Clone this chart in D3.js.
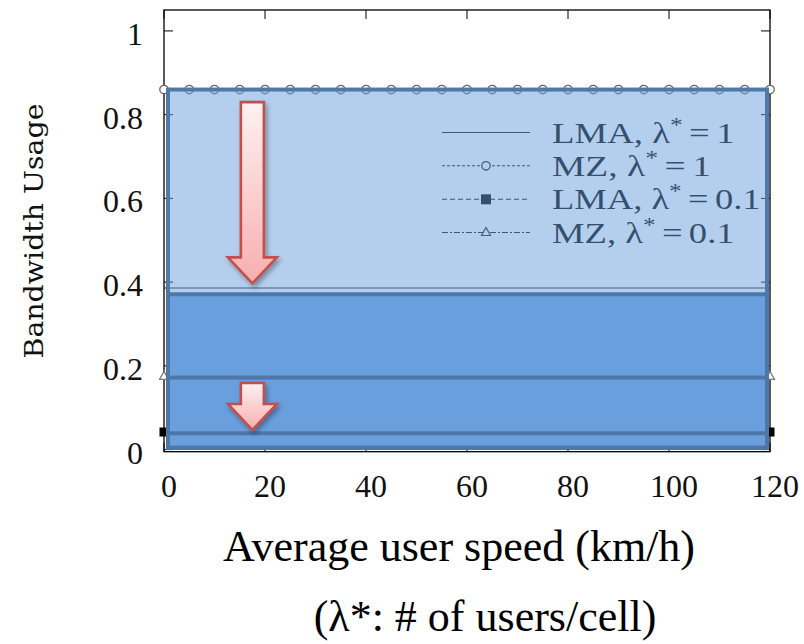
<!DOCTYPE html>
<html><head><meta charset="utf-8">
<script src="https://cdn.jsdelivr.net/npm/d3@7/dist/d3.min.js"></script>
<style>
html,body{margin:0;padding:0;background:#fff;} svg{display:block;}
.serif{font-family:"Liberation Serif","DejaVu Serif",Tinos,"Times New Roman",Times,serif;}
.dserif{font-family:"DejaVu Serif","Liberation Serif",serif;}
</style>
</head><body>
<svg id="chart" width="804" height="644"></svg>
<script>
// ---------------- data ----------------
const speeds  = [0,5,10,15,20,25,30,35,40,45,50,55,60,65,70,75,80,85,90,95,100,105,110,115,120];
const lmaHigh = [0.386,0.386,0.386,0.386,0.386,0.386,0.386,0.386,0.386,0.386,0.386,0.386,0.386,0.386,0.386,0.386,0.386,0.386,0.386,0.386,0.386,0.386,0.386,0.386,0.386];
const mzHigh  = [0.86,0.86,0.86,0.86,0.86,0.86,0.86,0.86,0.86,0.86,0.86,0.86,0.86,0.86,0.86,0.86,0.86,0.86,0.86,0.86,0.86,0.86,0.86,0.86,0.86];
const lmaLow  = [0.042,0.042,0.042,0.042,0.042,0.042,0.042,0.042,0.042,0.042,0.042,0.042,0.042,0.042,0.042,0.042,0.042,0.042,0.042,0.042,0.042,0.042,0.042,0.042,0.042];
const mzLow   = [0.175,0.175,0.175,0.175,0.175,0.175,0.175,0.175,0.175,0.175,0.175,0.175,0.175,0.175,0.175,0.175,0.175,0.175,0.175,0.175,0.175,0.175,0.175,0.175,0.175];
const seriesLabels = [["LMA, λ","*","=","1"],["MZ, λ","*","=","1"],["LMA, λ","*","=","0.1"],["MZ, λ","*","=","0.1"]];
const xTicks = [0,20,40,60,80,100,120];
const xTickLabels = ["0","20","40","60","80","100","120"];
const yTicks = [0,0.2,0.4,0.6,0.8,1];
const yTickLabels = ["0","0.2","0.4","0.6","0.8","1"];
const xTitle = "Average user speed (km/h)";
const xNote = "(λ*: # of users/cell)";
const yTitle = "Bandwidth Usage";
// overlay annotations (levels in data units)
const lightBandTop = 0.86;
const darkBandTops = [0.371, 0.172, 0.039];
const arrowSpeed = 17.5;
const arrowFrom = [0.83, 0.159];
const arrowTo   = [0.397, 0.047];

// ---------------- scales ----------------
const svg = d3.select("#chart");
const x = d3.scaleLinear().domain([0,120]).range([164,770]);
const y = d3.scaleLinear().domain([-0.005,1.05]).range([451.7,10]);

const defs = svg.append("defs");
const grad = defs.append("linearGradient").attr("id","arrowGrad").attr("x1",0).attr("y1",0).attr("x2",0).attr("y2",1);
grad.append("stop").attr("offset","0%").attr("stop-color","#fef1f1");
grad.append("stop").attr("offset","100%").attr("stop-color","#f8aeae");
const flt = defs.append("filter").attr("id","shadow").attr("x","-30%").attr("y","-10%").attr("width","160%").attr("height","130%");
flt.append("feDropShadow").attr("dx",2).attr("dy",3).attr("stdDeviation",2.5).attr("flood-color","#000").attr("flood-opacity",0.35);

// ---------------- gnuplot layer ----------------
const g = svg.append("g");
const tl = 9;
yTicks.forEach(v=>{
  g.append("line").attr("x1",x(0)).attr("x2",x(0)+tl).attr("y1",y(v)).attr("y2",y(v)).attr("stroke","#000");
  g.append("line").attr("x1",x(120)).attr("x2",x(120)-tl).attr("y1",y(v)).attr("y2",y(v)).attr("stroke","#000");
});
xTicks.forEach(v=>{
  g.append("line").attr("x1",x(v)).attr("x2",x(v)).attr("y1",y(1.05)).attr("y2",y(1.05)+tl).attr("stroke","#000");
  g.append("line").attr("x1",x(v)).attr("x2",x(v)).attr("y1",y(-0.005)).attr("y2",y(-0.005)-tl).attr("stroke","#000");
});
g.append("rect").attr("x",x(0)).attr("y",y(1.05)).attr("width",x(120)-x(0)).attr("height",y(-0.005)-y(1.05))
  .attr("fill","none").attr("stroke","#000").attr("stroke-width",1.3);

// tick labels
g.selectAll(".yl").data(yTicks).enter().append("text").attr("class","serif")
  .attr("x",143).attr("y",d=>y(d)+14).attr("text-anchor","end")
  .attr("font-size",32).attr("fill","#111")
  .text((d,i)=>yTickLabels[i]);
g.selectAll(".xl").data(xTicks).enter().append("text").attr("class","serif")
  .attr("x",d=>x(d)+5).attr("y",497).attr("text-anchor","middle")
  .attr("font-size",32).attr("fill","#111")
  .text((d,i)=>xTickLabels[i]);

// series
const line = vals => d3.line().x((d,i)=>x(speeds[i])).y(d=>y(d))(vals);
g.append("path").attr("d",line(lmaHigh)).attr("fill","none").attr("stroke","#222").attr("stroke-width",1.2);
g.append("path").attr("d",line(mzHigh)).attr("fill","none").attr("stroke","#333").attr("stroke-width",1).attr("stroke-dasharray","3,2");
g.append("path").attr("d",line(lmaLow)).attr("fill","none").attr("stroke","#222").attr("stroke-width",1).attr("stroke-dasharray","5,3");
g.append("path").attr("d",line(mzLow)).attr("fill","none").attr("stroke","#333").attr("stroke-width",1).attr("stroke-dasharray","6,2,2,2");
const tri = (cx,cy,r)=>`M${cx},${cy-r}L${cx+r*0.9},${cy+r*0.6}L${cx-r*0.9},${cy+r*0.6}Z`;
g.selectAll(".c").data(mzHigh).enter().append("circle")
  .attr("cx",(d,i)=>x(speeds[i])).attr("cy",d=>y(d)).attr("r",4.2)
  .attr("fill","#fff").attr("stroke","#666").attr("stroke-width",1.3);
g.selectAll(".sq").data(lmaLow).enter().append("rect")
  .attr("x",(d,i)=>x(speeds[i])-4.5).attr("y",d=>y(d)-4.5).attr("width",9).attr("height",9).attr("fill","#000");
g.selectAll(".tr").data(mzLow).enter().append("path")
  .attr("d",(d,i)=>tri(x(speeds[i]),y(d),5)).attr("fill","#fff").attr("stroke","#777").attr("stroke-width",1.2);

// legend
const legY = [132.5, 165.8, 199.3, 232.5];
const lx1 = 442, lx2 = 530, ltx = 552;
const legTargetW = [170, 146, 196, 170];
legY.forEach((ly,i)=>{
  const dash = [null,"3,2","5,3","6,2,2,2"][i];
  const ln = g.append("line").attr("x1",lx1).attr("x2",lx2).attr("y1",ly).attr("y2",ly).attr("stroke","#111").attr("stroke-width",1.1);
  if(dash) ln.attr("stroke-dasharray",dash);
  const mx = (lx1+lx2)/2;
  if(i===1) g.append("circle").attr("cx",mx).attr("cy",ly).attr("r",4.2).attr("fill","#fff").attr("stroke","#222").attr("stroke-width",1.3);
  if(i===2) g.append("rect").attr("x",mx-5).attr("y",ly-5).attr("width",10).attr("height",10).attr("fill","#000");
  if(i===3) g.append("path").attr("d",tri(mx,ly,5)).attr("fill","#fff").attr("stroke","#222").attr("stroke-width",1.2);
  const t = g.append("text").attr("class","serif").attr("font-size",29).attr("fill","#000")
    .attr("transform",`translate(${ltx},${ly+10})`);
  const p = seriesLabels[i];
  t.append("tspan").text(p[0]);
  t.append("tspan").attr("font-size",20).attr("dy",-11).text(p[1]);
  t.append("tspan").attr("dy",11).attr("dx",5).text(p[2]);
  t.append("tspan").attr("dx",5).text(p[3]);
  const w = t.node().getComputedTextLength();
  t.attr("transform",`translate(${ltx},${ly+10}) scale(${legTargetW[i]/w},1)`);
});

// ---------------- overlay layer ----------------
const ov = svg.append("g");
const bx1 = x(0)+4, bx2 = x(120)-3, bBottom = y(0)-2;
ov.append("rect").attr("x",bx1).attr("y",y(lightBandTop)).attr("width",bx2-bx1).attr("height",bBottom-y(lightBandTop))
  .attr("fill","#6a9fdc").attr("fill-opacity",0.5).attr("stroke","#4e79aa").attr("stroke-width",4);
darkBandTops.forEach(v=>{
  ov.append("rect").attr("x",bx1).attr("y",y(v)).attr("width",bx2-bx1).attr("height",bBottom-y(v))
    .attr("fill","#6a9fde").attr("stroke","#4d77a8").attr("stroke-width",4);
});

// arrows
const shaftHW = 11.5, headHW = 24.5, headLen = 26;
arrowFrom.forEach((f,i)=>{
  const cx = x(arrowSpeed), yT = y(f), yB = y(arrowTo[i]);
  const pts = [[cx-shaftHW,yT],[cx+shaftHW,yT],[cx+shaftHW,yB-headLen],[cx+headHW,yB-headLen],[cx,yB],[cx-headHW,yB-headLen],[cx-shaftHW,yB-headLen]];
  ov.append("path").attr("d","M"+pts.map(p=>p.join(",")).join("L")+"Z")
    .attr("fill","url(#arrowGrad)").attr("stroke","#c0504d").attr("stroke-width",2.6).attr("stroke-linejoin","miter")
    .attr("filter","url(#shadow)");
});

// ---------------- titles ----------------
const yt = svg.append("text").attr("class","dserif").attr("font-size",26).attr("fill","#111")
  .attr("text-anchor","middle").text(yTitle);
const ytw = yt.node().getComputedTextLength();
yt.attr("transform",`translate(43,231) rotate(-90) scale(${255/ytw},1)`);

svg.append("text").attr("class","serif").attr("x",459).attr("y",561).attr("text-anchor","middle")
  .attr("font-size",44).attr("fill","#000").text(xTitle);
svg.append("text").attr("class","serif").attr("x",485).attr("y",631).attr("text-anchor","middle")
  .attr("font-size",44).attr("fill","#000").text(xNote);
</script>
</body></html>
